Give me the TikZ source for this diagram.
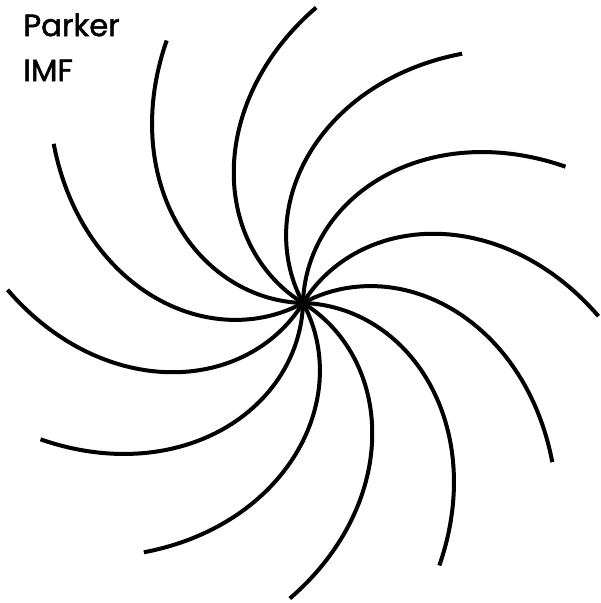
\documentclass[tikz,border=0pt]{standalone}
\usepackage{fontspec}
\setmainfont{Poppins}
\newfontfamily\imffont{Poppins}[FakeBold=1.6]
\usetikzlibrary{positioning}

\begin{document}
\begin{tikzpicture}[arm/.style={line width=0.08cm,black}]
\useasboundingbox(0,0)rectangle(12,12.06);
\clip(0,0)rectangle(12,12.06);
\node[anchor=north west,align=left,font=\imffont\fontsize{17.5}{25.6}\selectfont,inner sep=0pt](title)at(0.46,11.8){Parker\\IMF};
\coordinate(sun)at(6.06,6);
\begin{scope}[shift={(sun)}]
\foreach \a in {0,30,...,330}
\draw[arm]plot[domain=0:1,samples=60,smooth,variable=\t]({88.4+\a-61*\t}:{5.92*\t});
\end{scope}
\end{tikzpicture}
\end{document}
